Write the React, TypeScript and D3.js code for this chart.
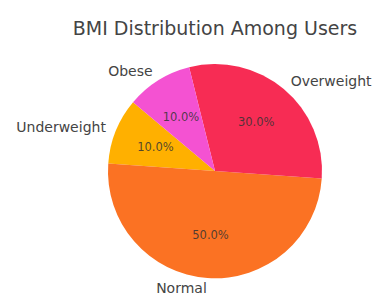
import React from "react";
import * as d3 from "d3";

const categories = ["Underweight", "Normal", "Overweight", "Obese"];
const values = [10, 50, 30, 10];
const colors = ["#FFB000", "#FB7223", "#F72C54", "#F452D2"];

const W = 374;
const H = 295;
const cx = 215;
const cy = 171;
const R = 107;
const START_DEG = 140; // matplotlib-style startangle, counterclockwise

const App: React.FC = () => {
  const total = d3.sum(values);
  const start = ((90 - START_DEG) * Math.PI) / 180;
  const pie = d3
    .pie<number>()
    .sort(null)
    .startAngle(start)
    .endAngle(start - 2 * Math.PI);
  const arcs = pie(values);
  const arc = d3.arc<d3.PieArcDatum<number>>().innerRadius(0).outerRadius(R);

  const font = "'DejaVu Sans', sans-serif";

  return (
    <svg
      width={W}
      height={H}
      style={{ position: "fixed", left: 0, top: 0, background: "#fff" }}
      fontFamily={font}
    >
      <text x={215} y={28} textAnchor="middle" dominantBaseline="central" fontSize={19} fill="#444">
        BMI Distribution Among Users
      </text>
      <g transform={`translate(${cx},${cy})`}>
        {arcs.map((a, i) => (
          <path key={i} d={arc(a) ?? ""} fill={colors[i]} />
        ))}
        {arcs.map((a, i) => {
          const m = (a.startAngle + a.endAngle) / 2;
          const lx = Math.sin(m) * R * 1.1;
          const ly = -Math.cos(m) * R * 1.1;
          const px = Math.sin(m) * R * 0.6;
          const py = -Math.cos(m) * R * 0.6;
          return (
            <g key={i}>
              <text
                x={lx}
                y={ly}
                textAnchor={lx > 0 ? "start" : "end"}
                dominantBaseline="central"
                fontSize={14}
                fill="#444"
              >
                {categories[i]}
              </text>
              <text
                x={px}
                y={py}
                textAnchor="middle"
                dominantBaseline="central"
                fontSize={11.5}
                fill="#333"
                fillOpacity={0.85}
              >
                {((values[i] / total) * 100).toFixed(1)}%
              </text>
            </g>
          );
        })}
      </g>
    </svg>
  );
};

export default App;
